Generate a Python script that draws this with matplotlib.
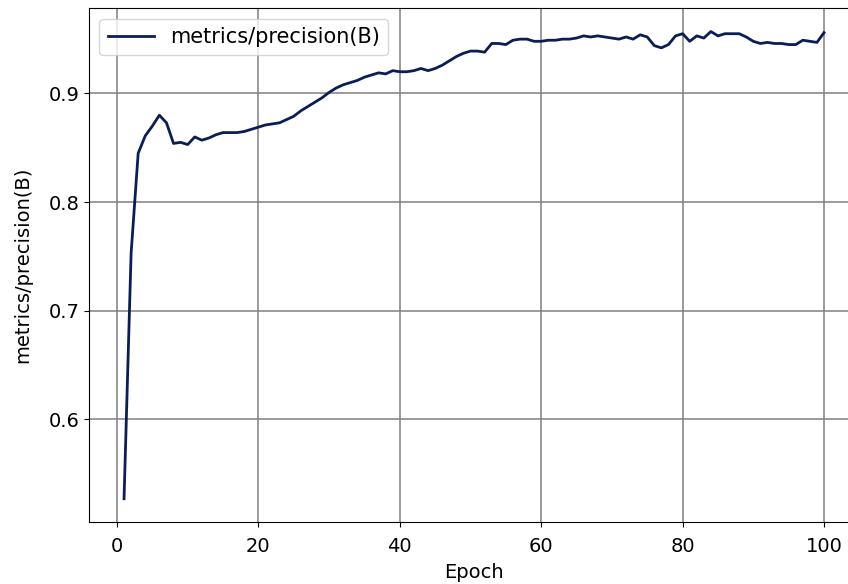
import numpy as np
import matplotlib
matplotlib.use("Agg")
import matplotlib.pyplot as plt

# precision per epoch
epochs = np.arange(1, 101)
precision = [
    0.527, 0.753, 0.845, 0.861, 0.870, 0.880, 0.873, 0.854, 0.855, 0.853,
    0.860, 0.857, 0.859, 0.862, 0.864, 0.864, 0.864, 0.865, 0.867, 0.869,
    0.871, 0.872, 0.873, 0.876, 0.879, 0.884, 0.888, 0.892, 0.896, 0.901,
    0.905, 0.908, 0.910, 0.912, 0.915, 0.917, 0.919, 0.918, 0.921, 0.920,
    0.920, 0.921, 0.923, 0.921, 0.923, 0.926, 0.930, 0.934, 0.937, 0.939,
    0.939, 0.938, 0.946, 0.946, 0.945, 0.949, 0.950, 0.950, 0.948, 0.948,
    0.949, 0.949, 0.950, 0.950, 0.951, 0.953, 0.952, 0.953, 0.952, 0.951,
    0.950, 0.952, 0.950, 0.954, 0.952, 0.944, 0.942, 0.945, 0.953, 0.955,
    0.948, 0.953, 0.951, 0.957, 0.953, 0.955, 0.955, 0.955, 0.952, 0.948,
    0.946, 0.947, 0.946, 0.946, 0.945, 0.945, 0.949, 0.948, 0.947, 0.956,
]
label = "metrics/precision(B)"

fig = plt.figure(figsize=(8.48, 5.84), dpi=100)
# the reference is cropped on the right, so no right spine shows
ax = fig.add_axes([0.105, 0.106, 0.908, 0.880])

ax.plot(epochs, precision, color="#0b1d57", lw=2.0, label=label)

ax.set_xlabel("Epoch", fontsize=14, labelpad=5)
ax.set_ylabel(label, fontsize=14, labelpad=12)
ax.tick_params(labelsize=14)
ax.tick_params(axis="x", pad=7)
ax.set_yticks([0.6, 0.7, 0.8, 0.9])
ax.spines["right"].set_visible(False)
ax.grid(color="#808080", lw=1.1)
ax.legend(loc="upper left", fontsize=15, handlelength=2.2)

plt.savefig("out.png", dpi=100)
